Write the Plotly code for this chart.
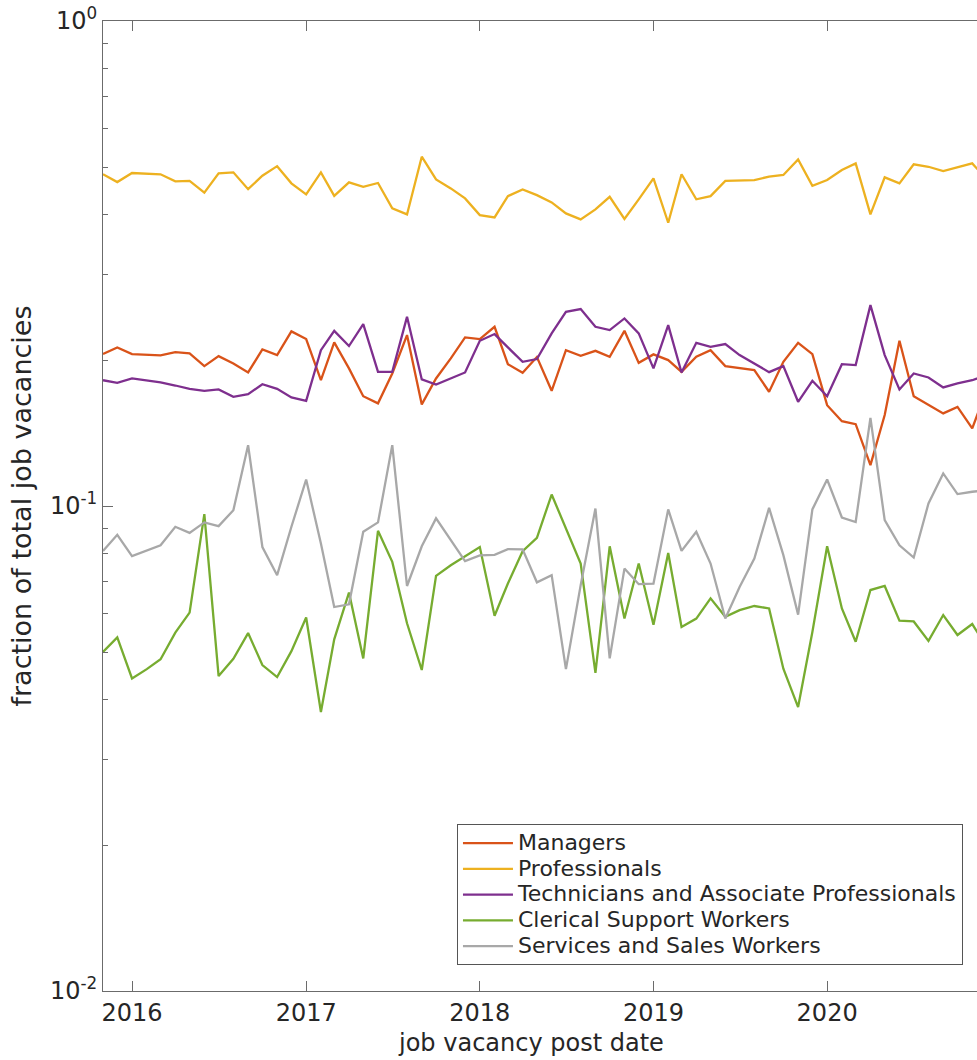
import pandas as pd
import plotly.graph_objects as go

# monthly job vacancy post dates (Nov 2015 .. Dec 2020)
months = pd.date_range("2015-11-01", periods=62, freq="MS")

managers = [0.2057,0.2123,0.2057,0.2050,0.2044,0.2077,0.2064,0.1943,0.2037,0.1968,
            0.1885,0.2103,0.2047,0.2291,0.2209,0.1817,0.2175,0.1922,0.1684,0.1628,
            0.1876,0.2251,0.1620,0.1832,0.2015,0.2227,0.2209,0.2342,0.1961,0.1882,
            0.2028,0.1728,0.2096,0.2040,0.2089,0.2031,0.2297,0.1973,0.2054,0.1999,
            0.1891,0.2031,0.2096,0.1943,0.1922,0.1906,0.1720,0.1983,0.2170,0.2057,
            0.1614,0.1496,0.1475,0.1214,0.1540,0.2191,0.1684,0.1614,0.1552,0.1601,
            0.1445,0.1734]

professionals = [0.483,0.4655,0.486,0.485,0.483,0.467,0.468,0.4425,0.485,0.4875,
                 0.450,0.4797,0.502,0.4627,0.439,0.4875,0.436,0.4648,0.455,0.4634,
                 0.4108,0.3992,0.525,0.4715,0.4517,0.4308,0.398,0.3936,0.4355,0.4496,
                 0.4375,0.4227,0.4012,0.390,0.4089,0.434,0.3906,0.4289,0.4738,0.3837,
                 0.483,0.4289,0.4355,0.468,0.4693,0.470,0.4775,0.4814,0.5185,0.4574,
                 0.470,0.4929,0.5087,0.3992,0.4761,0.4627,0.5063,0.5006,0.4905,0.4992,
                 0.5087,0.4722]

technicians = [0.1817,0.1795,0.1832,0.1817,0.1798,0.1772,0.1744,0.1728,0.1739,0.1679,
               0.1700,0.1783,0.1744,0.1674,0.1647,0.2096,0.2297,0.2137,0.2371,0.1891,
               0.1891,0.2455,0.1824,0.1780,0.1832,0.1885,0.2191,0.2262,0.2123,0.1983,
               0.2009,0.2269,0.2514,0.2547,0.2342,0.2305,0.2436,0.2269,0.1922,0.2360,
               0.1885,0.2170,0.2129,0.2157,0.2047,0.1968,0.1888,0.1943,0.1640,0.1812,
               0.1684,0.1961,0.1952,0.2595,0.2047,0.1739,0.1876,0.1841,0.1756,0.1789,
               0.1817,0.1862]

clerical = [0.0500,0.0536,0.0441,0.0461,0.0483,0.0548,0.0603,0.0962,0.0446,0.0484,
            0.0547,0.0470,0.0444,0.0502,0.0589,0.0376,0.0531,0.0663,0.0485,0.0889,
            0.0767,0.0573,0.0459,0.0718,0.0755,0.0788,0.0823,0.0594,0.0692,0.0807,
            0.0860,0.1056,0.0895,0.0761,0.0453,0.0826,0.0586,0.0761,0.0569,0.0800,
            0.0563,0.0586,0.0645,0.0591,0.0610,0.0622,0.0615,0.0462,0.0385,0.0550,
            0.0826,0.0615,0.0525,0.0671,0.0684,0.0580,0.0578,0.0527,0.0596,0.0542,
            0.0571,0.0512]

services = [0.0808,0.0872,0.0788,0.0808,0.0830,0.0906,0.0880,0.0925,0.0909,0.0980,
            0.1335,0.0823,0.0720,0.0906,0.1134,0.0837,0.0619,0.0627,0.0885,0.0925,
            0.1335,0.0684,0.0826,0.0943,0.0850,0.0770,0.0791,0.0793,0.0815,0.0814,
            0.0696,0.0720,0.0461,0.0687,0.0988,0.0485,0.0743,0.0690,0.0692,0.0984,
            0.0808,0.0885,0.0761,0.0586,0.0681,0.0779,0.0991,0.0792,0.0597,0.0984,
            0.1134,0.0947,0.0927,0.1520,0.0935,0.0830,0.0783,0.1012,0.1167,0.1058,
            0.1070,0.1078]

series_names = ["Managers", "Professionals", "Technicians and Associate Professionals",
                "Clerical Support Workers", "Services and Sales Workers"]
series_values = [managers, professionals, technicians, clerical, services]
series_colors = ["#D95319", "#EDB120", "#7E2F8E", "#77AC30", "#A8A8A8"]

year_ticks = ["2016-01-01", "2017-01-01", "2018-01-01", "2019-01-01", "2020-01-01"]
year_labels = ["2016", "2017", "2018", "2019", "2020"]
decade_ticks = [0.01, 0.1, 1]
decade_labels = ["10<sup>-2</sup>", "10<sup>-1</sup>", "10<sup>0</sup>"]
minor_ticks = [0.02, 0.03, 0.04, 0.05, 0.06, 0.07, 0.08, 0.09,
               0.2, 0.3, 0.4, 0.5, 0.6, 0.7, 0.8, 0.9]

fig = go.Figure()
for name, vals, col in zip(series_names, series_values, series_colors):
    fig.add_trace(go.Scatter(x=months, y=vals, mode="lines",
                             name='<span style="font-size:22px">' + name + '</span>',
                             line=dict(color=col, width=2.3)))

axis_col = "#6b6b6b"
text_col = "#262626"
fig.update_layout(
    width=977, height=1060,
    margin=dict(l=103, r=0, t=21, b=69),
    paper_bgcolor="white", plot_bgcolor="white",
    font=dict(family="DejaVu Sans", size=24, color=text_col),
    showlegend=True,
    legend=dict(x=0.405, y=0.172, xanchor="left", yanchor="top",
                bgcolor="white", bordercolor="#555555", borderwidth=1,
                font=dict(size=17.5, color=text_col), tracegroupgap=0,
                itemwidth=50),
    xaxis=dict(
        range=["2015-11-01", "2020-11-11"],
        tickvals=year_ticks, ticktext=year_labels,
        ticks="inside", ticklen=10, tickcolor=axis_col, tickwidth=1,
        showline=True, linecolor=axis_col, linewidth=1, mirror="ticks",
        showgrid=False, zeroline=False,
        tickfont=dict(size=24, color=text_col),
    ),
    yaxis=dict(
        type="log", range=[-2, 0],
        tickvals=decade_ticks, ticktext=decade_labels,
        ticks="inside", ticklen=10, tickcolor=axis_col, tickwidth=1,
        minor=dict(tickvals=minor_ticks, ticks="inside", ticklen=5,
                   tickcolor=axis_col, tickwidth=1, showgrid=False),
        showline=True, linecolor=axis_col, linewidth=1,
        showgrid=False, zeroline=False,
        tickfont=dict(size=24, color=text_col),
        title=dict(text="fraction of total job vacancies", font=dict(size=27, color=text_col), standoff=10),
    ),
    annotations=[dict(text="job vacancy post date", xref="paper", yref="paper",
                      x=0.4897, y=-0.054, xanchor="center", yanchor="middle",
                      showarrow=False, font=dict(size=24, color=text_col))],
)

fig.write_html("out.html")
